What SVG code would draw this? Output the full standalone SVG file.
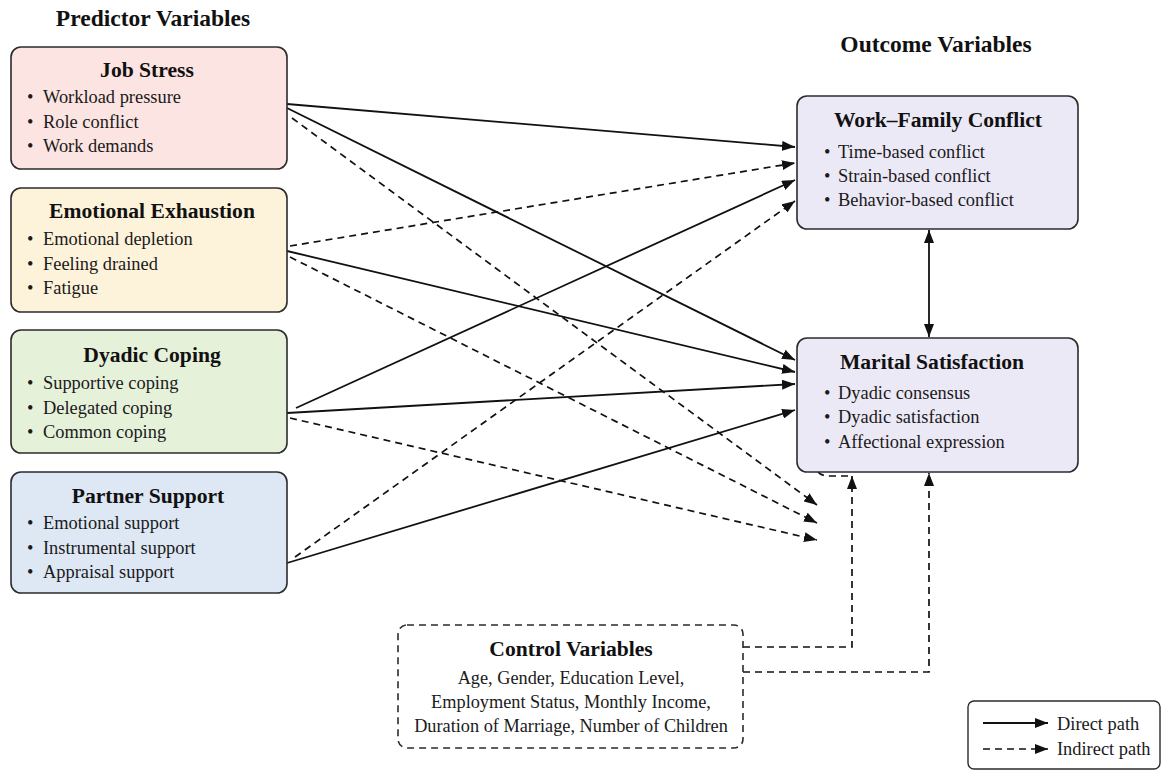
<svg xmlns="http://www.w3.org/2000/svg" width="1162" height="771" viewBox="0 0 1162 771">
  <style>
    .hdr { font-family: "Liberation Serif", "Times New Roman", serif; font-weight: bold; font-size: 23.5px; fill: #111; text-anchor: middle; }
    .ttl { font-family: "Liberation Serif", "Times New Roman", serif; font-weight: bold; font-size: 21.6px; fill: #111; text-anchor: middle; }
    .itm { font-family: "Liberation Serif", "Times New Roman", serif; font-size: 18.4px; fill: #1a1a1a; }
    .ctr { font-family: "Liberation Serif", "Times New Roman", serif; font-size: 18.3px; fill: #1a1a1a; text-anchor: middle; }
    .box { stroke: #2b2b2b; stroke-width: 1.6; }
    .solid { fill: none; stroke: #111; stroke-width: 1.8; }
    .dash { fill: none; stroke: #111; stroke-width: 1.7; stroke-dasharray: 7 5; }
  </style>
  <defs>
    <marker id="ah" markerUnits="userSpaceOnUse" markerWidth="13" markerHeight="10" refX="13" refY="5" orient="auto-start-reverse">
      <path d="M0,0 L13,5 L0,10 z" fill="#111"/>
    </marker>
  </defs>
  <rect width="1162" height="771" fill="#ffffff"/>

  <text class="hdr" x="153" y="26">Predictor Variables</text>
  <text class="hdr" x="936" y="52">Outcome Variables</text>

  <g id="connectors">
    <path class="solid" d="M287,104 L795,147" marker-end="url(#ah)"/>
    <path class="solid" d="M287,108 L795,360" marker-end="url(#ah)"/>
    <path class="solid" d="M287,251 L795,372" marker-end="url(#ah)"/>
    <path class="solid" d="M296,408 L795,180" marker-end="url(#ah)"/>
    <path class="solid" d="M287,413 L795,384" marker-end="url(#ah)"/>
    <path class="solid" d="M287,563 L795,410" marker-end="url(#ah)"/>
    <path class="dash" d="M292,118 L817,505" marker-end="url(#ah)"/>
    <path class="dash" d="M290,246 L795,163" marker-end="url(#ah)"/>
    <path class="dash" d="M290,257 L817,523" marker-end="url(#ah)"/>
    <path class="dash" d="M290,418 L817,540" marker-end="url(#ah)"/>
    <path class="dash" d="M295,557 L795,201" marker-end="url(#ah)"/>
    <path class="dash" d="M743,647 H852 V476" marker-end="url(#ah)"/>
    <path class="dash" d="M743,672 H929 V473" marker-end="url(#ah)"/>
    <path class="dash" d="M818,472 Q821,476 830,476 H851"/>
    <path class="solid" d="M929,230 V337" marker-start="url(#ah)" marker-end="url(#ah)"/>
  </g>

  <g id="job-stress">
    <rect class="box" x="11" y="47" width="276" height="122" rx="10" fill="#fbe4e2"/>
    <text class="ttl" x="147" y="77">Job Stress</text>
    <text class="itm" y="103"><tspan x="27">•</tspan><tspan x="43">Workload pressure</tspan></text>
    <text class="itm" y="128"><tspan x="27">•</tspan><tspan x="43">Role conflict</tspan></text>
    <text class="itm" y="152"><tspan x="27">•</tspan><tspan x="43">Work demands</tspan></text>
  </g>

  <g id="emotional-exhaustion">
    <rect class="box" x="11" y="188" width="276" height="124" rx="10" fill="#fdf3da"/>
    <text class="ttl" x="152" y="218">Emotional Exhaustion</text>
    <text class="itm" y="245"><tspan x="27">•</tspan><tspan x="43">Emotional depletion</tspan></text>
    <text class="itm" y="270"><tspan x="27">•</tspan><tspan x="43">Feeling drained</tspan></text>
    <text class="itm" y="294"><tspan x="27">•</tspan><tspan x="43">Fatigue</tspan></text>
  </g>

  <g id="dyadic-coping">
    <rect class="box" x="11" y="330" width="276" height="123" rx="10" fill="#e6f1da"/>
    <text class="ttl" x="152" y="362">Dyadic Coping</text>
    <text class="itm" y="389"><tspan x="27">•</tspan><tspan x="43">Supportive coping</tspan></text>
    <text class="itm" y="414"><tspan x="27">•</tspan><tspan x="43">Delegated coping</tspan></text>
    <text class="itm" y="438"><tspan x="27">•</tspan><tspan x="43">Common coping</tspan></text>
  </g>

  <g id="partner-support">
    <rect class="box" x="11" y="472" width="276" height="121" rx="10" fill="#dee8f5"/>
    <text class="ttl" x="148" y="503">Partner Support</text>
    <text class="itm" y="529"><tspan x="27">•</tspan><tspan x="43">Emotional support</tspan></text>
    <text class="itm" y="554"><tspan x="27">•</tspan><tspan x="43">Instrumental support</tspan></text>
    <text class="itm" y="578"><tspan x="27">•</tspan><tspan x="43">Appraisal support</tspan></text>
  </g>

  <g id="work-family-conflict">
    <rect class="box" x="797" y="96" width="281" height="133" rx="10" fill="#ece9f7"/>
    <text class="ttl" x="938" y="127">Work–Family Conflict</text>
    <text class="itm" y="158"><tspan x="824">•</tspan><tspan x="838">Time-based conflict</tspan></text>
    <text class="itm" y="182"><tspan x="824">•</tspan><tspan x="838">Strain-based conflict</tspan></text>
    <text class="itm" y="206"><tspan x="824">•</tspan><tspan x="838">Behavior-based conflict</tspan></text>
  </g>

  <g id="marital-satisfaction">
    <rect class="box" x="797" y="338" width="281" height="134" rx="10" fill="#ece9f7"/>
    <text class="ttl" x="932" y="369">Marital Satisfaction</text>
    <text class="itm" y="399"><tspan x="824">•</tspan><tspan x="838">Dyadic consensus</tspan></text>
    <text class="itm" y="423"><tspan x="824">•</tspan><tspan x="838">Dyadic satisfaction</tspan></text>
    <text class="itm" y="448"><tspan x="824">•</tspan><tspan x="838">Affectional expression</tspan></text>
  </g>

  <g id="control-variables">
    <rect x="398" y="625" width="345" height="123" rx="9" fill="#ffffff" stroke="#2b2b2b" stroke-width="1.6" stroke-dasharray="7 5"/>
    <text class="ttl" x="571" y="656">Control Variables</text>
    <text class="ctr" x="571" y="684">Age, Gender, Education Level,</text>
    <text class="ctr" x="571" y="708">Employment Status, Monthly Income,</text>
    <text class="ctr" x="571" y="732">Duration of Marriage, Number of Children</text>
  </g>

  <g id="legend">
    <rect x="968" y="701" width="192" height="68" rx="6" fill="#ffffff" stroke="#2b2b2b" stroke-width="1.4"/>
    <path class="solid" d="M983,723 H1048" marker-end="url(#ah)"/>
    <path class="dash" d="M983,749 H1048" marker-end="url(#ah)"/>
    <text class="itm" x="1057" y="730">Direct path</text>
    <text class="itm" x="1057" y="755">Indirect path</text>
  </g>
</svg>
